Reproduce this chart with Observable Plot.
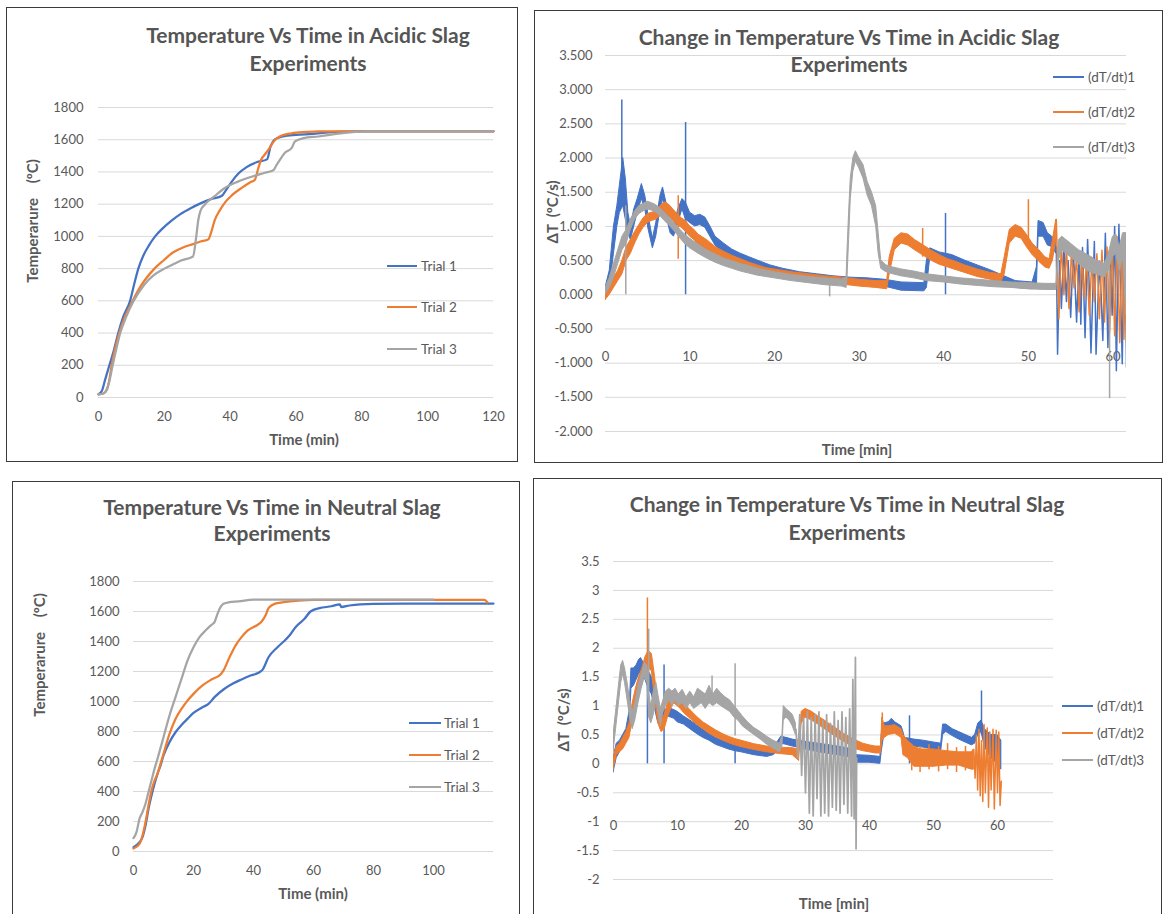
<!DOCTYPE html>
<html><head><meta charset="utf-8">
<script src="https://cdn.jsdelivr.net/npm/d3@7"></script>
<script src="https://cdn.jsdelivr.net/npm/@observablehq/plot@0.6"></script>
<style>
body{margin:0;background:#fff;}
#page{position:relative;width:1165px;height:914px;overflow:hidden;font-family:Lato,"DejaVu Sans",sans-serif;color:#595959;background:#fff;}
.box{position:absolute;border:1.5px solid #3a3a3a;box-sizing:border-box;}
.t{position:absolute;white-space:pre;transform:translate(-50%,-50%);line-height:1.2;}
.title{font-weight:700;font-size:21px;color:#555;}
.axt{font-weight:700;font-size:15px;}
.rot{transform:translate(-50%,-50%) rotate(-90deg);}
.lg{position:absolute;white-space:pre;font-size:13.5px;transform:translateY(-50%);line-height:1.2;}
.ll{position:absolute;}
#page svg{position:absolute;}
</style></head><body><div id="page"></div><script>
// ---------- colours ----------
const blue = "#4472C4", orange = "#ED7D31", gray = "#A5A5A5";

// ---------- Panel A : Temperature vs time, acidic slag  [t (min), T (°C)] ----------
const acidTrial1 = [[0,20],[1,40],[2,110],[3.3,200],[4.5,280],[6,400],[7.5,500],[9.6,600],[10.8,700],[12.1,800],[13.6,880],[15.2,940],[17.2,1000],[19.5,1050],[22,1095],[25,1140],[28,1175],[31,1205],[34,1230],[37.5,1252],[38.5,1280],[40.5,1340],[42.5,1390],[45,1430],[48,1460],[51.2,1478],[52.3,1560],[53.5,1600],[56,1620],[60,1630],[65,1636],[70,1645],[75,1650],[80,1652],[120,1652]];
const acidTrial2 = [[0,20],[1.5,25],[2.5,50],[3.2,100],[4,200],[5,300],[6.3,400],[8,500],[10.4,600],[12.5,680],[14.5,740],[17,800],[20,855],[22.6,900],[25.5,930],[28.7,952],[31,968],[33.3,980],[34.3,1030],[35.3,1100],[36.8,1160],[38.4,1210],[40.5,1255],[43.4,1300],[46,1335],[47.5,1352],[48.5,1420],[49.5,1480],[50.6,1510],[52,1550],[53.1,1585],[55,1620],[58.7,1640],[63,1648],[66.8,1652],[120,1652]];
const acidTrial3 = [[0,20],[1.5,25],[2.5,45],[3.3,100],[4.3,200],[5.4,300],[6.6,400],[8.4,500],[10.7,600],[13.9,700],[16.5,755],[20,800],[23,830],[25.1,850],[28.7,875],[29.7,1000],[30.3,1100],[31,1160],[32.2,1195],[35.3,1250],[38.4,1300],[42.4,1340],[46.5,1370],[50.6,1395],[53.1,1410],[54,1440],[55.1,1475],[56.7,1520],[58.7,1550],[59.7,1590],[62.3,1610],[66.8,1620],[72.9,1638],[78,1648],[82,1652],[120,1652]];

// ---------- Panel C : Temperature vs time, neutral slag ----------
const neutTrial1 = [[0,29],[2,62],[3,96],[4,173],[5,284],[6,373],[7,451],[8,518],[9,573],[10,640],[12,729],[14,795],[16,844],[18,884],[20,924],[23,962],[25,984],[27,1029],[30,1080],[33,1118],[36,1147],[39,1173],[42,1195],[43,1211],[45,1295],[48,1362],[51,1418],[52,1440],[54,1495],[57,1551],[59,1600],[62,1622],[66,1635],[68.8,1648],[69.2,1630],[72,1640],[80,1651],[90,1653],[120,1653]];
const neutTrial2 = [[0,20],[2,51],[3,107],[4,196],[5,307],[6,407],[7,473],[8,518],[9,584],[10,651],[12,784],[14,884],[16,951],[18,1006],[20,1051],[23,1107],[26,1147],[29,1180],[30,1207],[32,1295],[34,1373],[36,1429],[38,1473],[41,1507],[42.5,1529],[44,1573],[45,1622],[47,1651],[50,1662],[55,1673],[60,1678],[117,1678],[118,1660]];
const neutTrial3 = [[0,89],[1,129],[2,218],[3,262],[4,318],[5,396],[6,473],[7,551],[8,618],[10,762],[12,907],[14,1029],[16,1151],[18,1273],[20,1362],[22,1429],[24,1473],[26,1511],[27,1529],[28,1584],[29,1629],[30,1651],[32,1662],[35,1667],[40,1680],[100,1680]];

// ---------- Panel B : dT/dt, acidic slag. Bands [t, low, high]; spikes [t, low, high]; oscillations [t, v] ----------
const acidRate1Band = [[0,-0.05,0.1],[0.5,0.1,0.35],[1.0,0.6,1.0],[1.4,1.0,1.3],[1.7,1.2,1.6],[2.1,1.3,2.0],[2.4,1.1,1.7],[2.7,0.9,1.2],[3.0,0.8,1.0],[3.4,1.0,1.25],[3.8,1.2,1.4],[4.3,1.4,1.62],[4.7,1.25,1.45],[5.1,0.95,1.15],[5.6,0.68,0.82],[6.0,0.85,1.05],[6.5,1.25,1.45],[6.8,1.4,1.57],[7.2,1.15,1.35],[7.7,0.9,1.05],[8.1,0.85,0.98],[8.6,1.05,1.25],[9.1,1.25,1.4],[9.5,1.1,1.35],[10.0,1.05,1.2],[10.6,1.0,1.15],[11.2,1.02,1.17],[11.8,0.98,1.13],[12.4,0.85,1.0],[13.0,0.72,0.85],[14.0,0.6,0.75],[15.0,0.52,0.66],[16.0,0.46,0.6],[17.0,0.42,0.55],[18.0,0.37,0.5],[19.5,0.32,0.43],[21.0,0.27,0.38],[23.0,0.23,0.33],[25.0,0.2,0.3],[27.0,0.17,0.27],[29.0,0.15,0.25],[31.0,0.14,0.24],[33.0,0.12,0.22],[35.0,0.06,0.18],[37.7,0.05,0.17],[38.0,0.1,0.5],[38.4,0.55,0.68],[39.5,0.5,0.62],[41.0,0.45,0.58],[42.5,0.38,0.5],[44.0,0.32,0.43],[45.5,0.26,0.36],[47.0,0.17,0.28],[48.5,0.1,0.2],[50.5,0.08,0.18],[51.0,0.1,0.4],[51.2,0.85,1.08],[51.8,0.85,1.05],[52.3,0.72,0.9],[52.8,0.7,0.85],[53.3,0.6,0.8]];
const acidRate1Spikes = [[1.93,1.4,2.85],[9.47,0.0,2.52],[40.2,0.0,1.19]];
const acidRate1Osc = [[53.3,0.7],[53.45,-0.87],[53.7,0.5],[53.9,-0.2],[54.2,0.69],[54.5,-0.1],[54.7,0.5],[55.0,-0.33],[55.3,0.64],[55.5,0.2],[55.7,-0.4],[56.0,0.55],[56.2,-0.43],[56.4,0.69],[56.7,-0.63],[57.0,0.81],[57.2,0.1],[57.4,-0.85],[57.8,0.78],[58.0,-0.87],[58.4,0.49],[58.6,0.0],[58.8,-0.67],[59.1,0.9],[59.4,-0.77],[59.7,0.6],[59.9,-0.3],[60.2,1.0],[60.4,-1.11],[60.7,1.03],[61.1,-1.01],[61.3,0.9],[61.5,0.3],[61.6,-1.06]];

const acidRate2Band = [[0,-0.08,0.05],[0.5,0.0,0.12],[1.0,0.1,0.25],[1.5,0.2,0.35],[2.0,0.3,0.5],[2.5,0.5,0.7],[3.0,0.6,0.8],[3.5,0.75,0.92],[4.0,0.88,1.02],[4.5,0.98,1.12],[5.0,1.05,1.18],[5.5,1.08,1.2],[6.0,1.1,1.22],[6.5,1.15,1.3],[7.0,1.2,1.35],[7.5,1.15,1.32],[8.0,1.08,1.25],[8.5,1.02,1.18],[9.0,0.98,1.12],[9.5,0.92,1.08],[10,0.85,1.0],[10.5,0.8,0.95],[11,0.73,0.88],[12,0.65,0.8],[13,0.57,0.7],[14,0.5,0.63],[15,0.45,0.57],[16,0.4,0.52],[17,0.36,0.47],[18,0.32,0.43],[19,0.29,0.39],[20,0.27,0.37],[22,0.23,0.33],[24,0.2,0.3],[26,0.17,0.27],[28,0.15,0.25],[30,0.12,0.22],[32,0.1,0.2],[33.3,0.08,0.2],[33.6,0.3,0.55],[34.2,0.65,0.82],[35,0.75,0.9],[35.8,0.72,0.88],[36.6,0.65,0.8],[37.5,0.58,0.73],[38.5,0.5,0.65],[39.5,0.44,0.58],[40.5,0.4,0.52],[41.5,0.36,0.48],[42.5,0.32,0.43],[44,0.26,0.37],[45.5,0.22,0.32],[46.8,0.18,0.3],[47.2,0.3,0.55],[47.8,0.75,0.95],[48.5,0.85,1.02],[49.2,0.82,0.98],[49.8,0.7,0.88],[50.5,0.58,0.75],[51.3,0.48,0.65],[52,0.4,0.55],[52.5,0.38,0.52],[52.9,0.5,0.8],[53.3,0.8,1.1]];
const acidRate2Spikes = [[8.6,0.52,1.45],[37.5,0.55,0.97],[50.0,0.7,1.39]];
const acidRate2Osc = [[53.3,1.1],[53.6,-0.35],[53.9,0.75],[54.2,0.0],[54.5,0.7],[54.8,-0.2],[55.1,0.65],[55.4,0.1],[55.7,0.55],[56.0,-0.25],[56.3,0.6],[56.6,-0.05],[56.9,0.55],[57.2,-0.3],[57.5,0.5],[57.8,-0.1],[58.1,0.6],[58.4,-0.35],[58.7,0.65],[59.0,-0.4],[59.3,0.7],[59.6,-0.55],[59.9,0.8],[60.2,-0.6],[60.5,0.85],[60.8,-0.7],[61.1,0.8],[61.3,-0.65],[61.5,0.9],[61.6,-0.7]];

const acidRate3Band = [[0,0.0,0.1],[0.5,0.1,0.25],[1.0,0.25,0.45],[1.5,0.45,0.65],[2.0,0.65,0.85],[2.5,0.75,0.95],[3.0,0.95,1.1],[3.5,1.1,1.22],[4.0,1.18,1.3],[4.5,1.22,1.33],[5.0,1.25,1.36],[5.5,1.23,1.34],[6.0,1.2,1.31],[6.5,1.15,1.26],[7.0,1.08,1.2],[7.5,1.02,1.14],[8.0,0.95,1.07],[8.5,0.88,1.0],[9.0,0.8,0.93],[9.5,0.73,0.87],[10,0.68,0.82],[11,0.6,0.73],[12,0.53,0.65],[13,0.47,0.59],[14,0.42,0.53],[15,0.38,0.49],[16,0.34,0.45],[17,0.31,0.42],[18,0.28,0.38],[20,0.24,0.33],[22,0.2,0.29],[24,0.17,0.26],[26,0.14,0.24],[28,0.12,0.22],[28.5,0.1,0.25],[28.6,0.2,0.6],[28.8,0.8,1.2],[29.0,1.4,1.7],[29.3,1.8,2.0],[29.6,1.95,2.1],[30.0,1.85,2.0],[30.5,1.7,1.9],[31.0,1.45,1.65],[31.5,1.3,1.5],[32.0,1.0,1.3],[32.3,0.6,0.9],[32.6,0.38,0.5],[33.2,0.33,0.43],[34,0.3,0.4],[35,0.27,0.37],[36.5,0.24,0.34],[38,0.2,0.3],[40,0.18,0.27],[42,0.15,0.24],[44,0.13,0.22],[46,0.11,0.2],[48,0.1,0.18],[50,0.08,0.17],[52,0.07,0.16],[53.3,0.07,0.16],[53.6,0.5,0.8],[54.0,0.65,0.85],[54.5,0.6,0.8],[55,0.55,0.75],[55.5,0.5,0.7],[56,0.45,0.65],[56.5,0.4,0.62],[57,0.35,0.58],[57.5,0.32,0.55],[58,0.3,0.5],[58.5,0.28,0.48],[59,0.25,0.45],[59.5,0.35,0.6],[60,0.55,0.85],[60.4,0.6,0.88],[60.8,0.35,0.7],[61.2,0.55,0.9],[61.6,-0.3,0.9]];
const acidRate3Spikes = [[2.4,0.0,1.3],[26.5,-0.03,0.2],[59.6,-1.52,0.4]];

// ---------- Panel D : dT/dt, neutral slag ----------
const neutRate1Band = [[0,-0.15,0.1],[0.5,0.1,0.35],[1,0.2,0.4],[1.5,0.3,0.5],[2.0,0.4,0.6],[2.5,0.55,0.9],[2.8,1.3,1.65],[3.2,1.35,1.65],[3.6,1.45,1.7],[4.0,1.55,1.8],[4.3,1.6,1.83],[4.7,1.5,1.75],[5.0,1.45,1.7],[5.5,1.3,1.6],[6.0,1.2,1.5],[6.5,0.95,1.2],[7.0,0.7,0.9],[7.5,0.7,0.85],[8.0,0.75,0.9],[8.5,0.82,0.97],[9.0,0.8,0.95],[9.5,0.78,0.93],[10,0.72,0.9],[11,0.68,0.82],[12,0.6,0.75],[13,0.52,0.67],[14,0.45,0.6],[15,0.4,0.52],[16,0.33,0.45],[17,0.29,0.4],[18,0.25,0.36],[19,0.22,0.33],[20,0.2,0.3],[22,0.15,0.25],[24,0.12,0.22],[25,0.15,0.25],[25.5,0.2,0.35],[26.2,0.35,0.47],[27,0.33,0.45],[28,0.3,0.42],[29,0.28,0.4],[30,0.25,0.38],[32,0.2,0.35],[35,0.15,0.3],[37.5,0.1,0.25],[38,0.02,0.15],[40,0.02,0.14],[41.7,0.0,0.12],[41.9,0.2,0.5],[42.3,0.5,0.7],[43,0.55,0.72],[43.5,0.6,0.78],[44,0.55,0.72],[45,0.5,0.65],[45.3,0.4,0.55],[45.5,0.3,0.45],[47,0.3,0.42],[48.5,0.28,0.4],[50,0.25,0.37],[51.2,0.22,0.35],[51.5,0.5,0.68],[52,0.55,0.68],[53,0.48,0.6],[54,0.42,0.55],[55,0.37,0.5],[56,0.32,0.45],[56.5,0.35,0.5],[57,0.5,0.7],[57.5,0.55,0.75],[58,0.3,0.6],[59,0.1,0.5],[60,0.0,0.5],[60.6,-0.1,0.4]];
const neutRate1Spikes = [[5.3,0.0,1.64],[7.9,0.0,1.71],[19.0,0.0,0.3],[46.25,0.0,0.83],[57.5,0.5,1.26]];

const neutRate2Band = [[0,-0.1,0.1],[0.5,0.15,0.3],[1,0.2,0.35],[1.5,0.25,0.45],[2,0.35,0.55],[2.5,0.45,0.7],[3,0.75,1.05],[3.5,1.0,1.3],[4.0,1.25,1.5],[4.5,1.4,1.65],[5.0,1.55,1.85],[5.5,1.65,1.95],[6.0,1.6,1.9],[6.5,1.1,1.5],[7.0,0.7,1.0],[7.5,0.55,0.75],[8.0,0.6,0.85],[8.5,0.8,1.05],[9.0,0.95,1.2],[9.5,1.05,1.25],[10,1.0,1.2],[10.5,0.95,1.12],[11,0.88,1.05],[12,0.78,0.93],[13,0.68,0.82],[14,0.6,0.72],[15,0.52,0.65],[16,0.46,0.58],[17,0.41,0.52],[18,0.36,0.47],[19,0.32,0.43],[20,0.29,0.4],[22,0.24,0.34],[24,0.2,0.3],[26,0.17,0.28],[28,0.15,0.27],[29,0.05,0.25],[29.4,0.7,0.9],[30,0.8,0.95],[31,0.75,0.9],[32,0.68,0.82],[33,0.6,0.75],[34,0.52,0.67],[35,0.45,0.6],[36,0.38,0.52],[37,0.32,0.46],[38,0.25,0.4],[39,0.22,0.35],[40,0.2,0.32],[41,0.18,0.3],[41.8,0.18,0.3],[42,0.4,0.8],[42.4,0.45,0.65],[43,0.5,0.65],[44,0.52,0.67],[45,0.45,0.6],[45.3,0.15,0.5],[46,0.1,0.4],[47,-0.05,0.3],[48,-0.05,0.25],[50,-0.05,0.25],[52,-0.03,0.22],[54,-0.03,0.2],[56,-0.1,0.2],[56.3,-0.1,0.25]];
const neutRate2Spikes = [[5.3,1.5,2.87],[42.0,0.4,0.88],[46.6,-0.12,0.32],[47.9,-0.15,0.3],[49.3,-0.1,0.33],[50.8,-0.14,0.3],[52.2,-0.1,0.35],[53.6,-0.15,0.28],[55.0,-0.12,0.3]];
const neutRate2Osc = [[56.3,0.25],[56.5,-0.25],[56.7,0.5],[56.9,-0.45],[57.1,0.6],[57.3,-0.55],[57.5,0.4],[57.7,-0.65],[57.9,0.68],[58.1,-0.5],[58.4,0.62],[58.6,-0.75],[58.8,0.55],[59.0,-0.45],[59.3,0.6],[59.5,-0.78],[59.8,0.58],[60.0,-0.5],[60.2,0.55],[60.4,-0.72],[60.6,-0.3]];

const neutRate3Band = [[0,0.2,0.5],[0.4,0.6,0.9],[0.8,1.0,1.3],[1.2,1.4,1.7],[1.5,1.55,1.78],[1.8,1.4,1.65],[2.2,1.1,1.4],[2.6,0.8,1.1],[3.0,0.6,0.9],[3.4,0.75,1.05],[3.9,1.05,1.35],[4.4,1.3,1.55],[4.9,1.5,1.75],[5.3,1.4,1.7],[5.6,0.8,1.2],[5.9,0.7,1.0],[6.3,0.85,1.25],[6.7,1.1,1.4],[7.0,0.9,1.2],[7.4,0.65,0.95],[7.8,0.9,1.1],[8.2,1.0,1.25],[8.7,1.1,1.3],[9.2,1.0,1.25],[9.7,1.1,1.3],[10.2,1.0,1.2],[10.8,1.05,1.28],[11.4,0.95,1.15],[12,1.05,1.25],[12.6,0.95,1.15],[13.2,1.0,1.3],[13.8,1.05,1.25],[14.4,0.95,1.2],[15,1.05,1.35],[15.6,1.0,1.2],[16.2,1.05,1.3],[16.8,1.0,1.22],[17.5,0.95,1.15],[18.2,0.9,1.1],[18.9,0.8,1.0],[19.5,0.75,0.92],[20.2,0.65,0.82],[21,0.58,0.72],[22,0.5,0.62],[23,0.42,0.55],[24,0.33,0.47],[25,0.26,0.4],[26,0.2,0.35],[26.4,0.3,0.5],[26.6,0.75,1.0],[27,0.8,0.95],[27.5,0.75,0.9],[28,0.65,0.85],[28.5,0.5,0.7]];
const neutRate3Spikes = [[5.5,0.8,2.33],[15.4,1.1,1.52],[19.0,0.48,1.73]];
const neutRate3Osc = [[28.5,0.6],[28.8,0.1],[29.1,0.85],[29.4,-0.2],[29.7,0.8],[30.0,-0.5],[30.3,0.9],[30.6,-0.85],[30.9,0.8],[31.2,-0.9],[31.5,0.85],[31.8,-0.6],[32.1,0.9],[32.4,-0.9],[32.7,0.75],[33.0,-0.85],[33.3,0.85],[33.6,-0.9],[33.9,0.7],[34.2,-0.75],[34.5,0.9],[34.8,-0.8],[35.1,0.75],[35.4,-0.85],[35.7,0.9],[36.0,-0.7],[36.3,0.8],[36.6,-0.85],[36.9,0.95],[37.2,-0.9],[37.4,1.46],[37.6,-0.95],[37.8,1.84],[37.9,-1.47],[38.0,0.1]];

// ---------- ticks ----------
const tempYTicks = [0,200,400,600,800,1000,1200,1400,1600,1800];
const acidTempXTicks = [0,20,40,60,80,100,120];
const neutTempXTicks = [0,20,40,60,80,100];
const rateYTicks = [-2,-1.5,-1,-0.5,0,0.5,1,1.5,2,2.5,3,3.5];
const rateXTicks = [0,10,20,30,40,50,60];

// ---------- helpers ----------
const pts = a => a.map(([t, v]) => ({t, v}));
const band = a => a.map(([t, lo, hi]) => ({t, lo, hi}));
const page = document.getElementById("page");

function rateMarks(b, s, o, color, sw) {
  const m = [Plot.areaY(band(b), {x: "t", y1: "lo", y2: "hi", fill: color, stroke: color, strokeWidth: 1, clip: true})];
  if (s) m.push(Plot.ruleX(band(s), {x: "t", y1: "lo", y2: "hi", stroke: color, strokeWidth: 1.5, clip: true}));
  if (o) m.push(Plot.line(pts(o), {x: "t", y: "v", stroke: color, strokeWidth: sw, clip: true}));
  return m;
}
function tempLine(a, color) {
  return Plot.line(pts(a), {x: "t", y: "v", stroke: color, strokeWidth: 2.25, curve: "monotone-x"});
}

function panel(p) {
  const svg = Plot.plot({
    width: p.w, height: p.h,
    marginLeft: p.ml, marginRight: p.mr, marginTop: p.mt, marginBottom: p.mb,
    x: {domain: p.xd, label: null},
    y: {domain: p.yd, label: null},
    style: {fontFamily: "Lato, 'DejaVu Sans', sans-serif", fontSize: "13px", color: "#595959", background: "transparent", overflow: "visible"},
    marks: [
      Plot.gridY(p.yt, {stroke: "#d9d9d9", strokeOpacity: 1, strokeWidth: 1}),
      Plot.axisY(p.yt, {tickSize: 0, tickPadding: p.ypad, tickFormat: p.yfmt, fontSize: 13}),
      Plot.axisX(p.xt, {tickSize: 0, tickPadding: p.xpad, dy: p.xdy || 0, tickFormat: d => String(d), fontSize: 13}),
      ...p.marks
    ]
  });
  svg.style.left = p.left + "px";
  svg.style.top = p.top + "px";
  page.appendChild(svg);
}

function box(l, t, r, b) {
  const d = document.createElement("div");
  d.className = "box";
  Object.assign(d.style, {left: l + "px", top: t + "px", width: (r - l) + "px", height: (b - t) + "px"});
  page.appendChild(d);
}
function text(str, x, y, cls) {
  const d = document.createElement("div");
  d.className = "t " + cls;
  d.textContent = str;
  Object.assign(d.style, {left: x + "px", top: y + "px"});
  page.appendChild(d);
}
function legend(items, x1, x2, tx) {
  for (const [label, color, y, lw] of items) {
    const l = document.createElement("div");
    l.className = "ll";
    Object.assign(l.style, {left: x1 + "px", top: (y - lw / 2) + "px", width: (x2 - x1) + "px", height: lw + "px", background: color});
    page.appendChild(l);
    const s = document.createElement("div");
    s.className = "lg";
    s.textContent = label;
    Object.assign(s.style, {left: tx + "px", top: y + "px"});
    page.appendChild(s);
  }
}

// ---------- borders ----------
box(6, 7, 518, 462);
box(534, 10, 1163, 463);
box(12, 481, 520, 930);
box(533, 478, 1162, 930);

// ---------- Panel A ----------
panel({left: 6, top: 7, w: 512, h: 455, ml: 92, mr: 25, mt: 100, mb: 65,
  xd: [0, 120], yd: [0, 1800], xt: acidTempXTicks, yt: tempYTicks, ypad: 15, xpad: 14, yfmt: d => String(d),
  marks: [tempLine(acidTrial1, blue), tempLine(acidTrial2, orange), tempLine(acidTrial3, gray)]});
// ---------- Panel B ----------
panel({left: 534, top: 10, w: 629, h: 453, ml: 71, mr: 37, mt: 45, mb: 32,
  xd: [0, 61.6], yd: [-2, 3.5], xt: rateXTicks, yt: rateYTicks, ypad: 13, xpad: 0, xdy: -80, yfmt: d => d.toFixed(3),
  marks: [...rateMarks(acidRate1Band, acidRate1Spikes, acidRate1Osc, blue, 1.5),
          ...rateMarks(acidRate2Band, acidRate2Spikes, acidRate2Osc, orange, 1.5),
          ...rateMarks(acidRate3Band, acidRate3Spikes, null, gray, 1.25)]});
// ---------- Panel C ----------
panel({left: 12, top: 481, w: 508, h: 433, ml: 121, mr: 27, mt: 100, mb: 63,
  xd: [0, 120], yd: [0, 1800], xt: neutTempXTicks, yt: tempYTicks, ypad: 14, xpad: 14, yfmt: d => String(d),
  marks: [tempLine(neutTrial1, blue), tempLine(neutTrial2, orange), tempLine(neutTrial3, gray)]});
// ---------- Panel D ----------
panel({left: 533, top: 478, w: 629, h: 436, ml: 80, mr: 109, mt: 83, mb: 35,
  xd: [0, 68.75], yd: [-2, 3.5], xt: rateXTicks, yt: rateYTicks, ypad: 14, xpad: 0, xdy: -59, yfmt: d => String(d),
  marks: [...rateMarks(neutRate1Band, neutRate1Spikes, null, blue, 1.5),
          ...rateMarks(neutRate2Band, neutRate2Spikes, neutRate2Osc, orange, 1.5),
          ...rateMarks(neutRate3Band, neutRate3Spikes, neutRate3Osc, gray, 1.75)]});

// ---------- titles ----------
text("Temperature Vs Time in Acidic Slag", 308, 35, "title");
text("Experiments", 308, 63, "title");
text("Change in Temperature Vs Time in Acidic Slag", 849, 37, "title");
text("Experiments", 849, 64, "title");
text("Temperature Vs Time in Neutral Slag", 272, 507, "title");
text("Experiments", 272, 533, "title");
text("Change in Temperature Vs Time in Neutral Slag", 847, 504, "title");
text("Experiments", 847, 532, "title");

// axis titles
text("Temperarure    (ºC)", 32, 221, "axt rot");
text("ΔT  (ºC/s)", 552, 212, "axt rot");
text("Temperarure    (ºC)", 39, 655, "axt rot");
text("ΔT  (ºC/s)", 563, 720, "axt rot");
text("Time (min)", 304, 439, "axt");
text("Time [min]", 857, 449, "axt");
text("Time (min)", 313, 893, "axt");
text("Time [min]", 834, 903, "axt");

// legends
legend([["Trial 1", blue, 266, 2], ["Trial 2", orange, 307, 2], ["Trial 3", gray, 349, 2]], 387, 417, 421);
legend([["(dT/dt)1", blue, 77, 2], ["(dT/dt)2", orange, 112, 2], ["(dT/dt)3", gray, 147, 1.25]], 1053, 1084, 1088);
legend([["Trial 1", blue, 723, 2], ["Trial 2", orange, 755, 2], ["Trial 3", gray, 787, 2]], 409, 441, 444);
legend([["(dT/dt)1", blue, 706, 2], ["(dT/dt)2", orange, 733, 2], ["(dT/dt)3", gray, 760, 2]], 1062, 1093, 1097);
</script></body></html>
